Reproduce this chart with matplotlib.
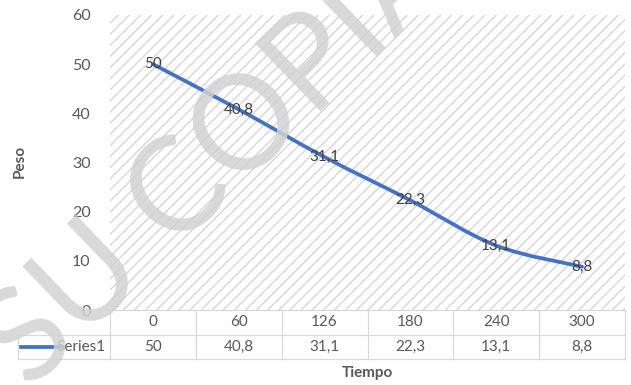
import numpy as np
import matplotlib.pyplot as plt
import matplotlib.transforms as mtransforms
from matplotlib.path import Path
from matplotlib.patches import PathPatch, Rectangle

plt.rcParams['font.family'] = ['Lato', 'DejaVu Sans']
plt.rcParams['hatch.linewidth'] = 1.0

tiempo = ['0', '60', '126', '180', '240', '300']
peso = [50, 40.8, 31.1, 22.3, 13.1, 8.8]
serie = 'Series1'

texto = '#595959'
azul = '#4472c4'
borde = '#d9d9d9'


def etiqueta(v):
    # coma decimal
    return f'{v:g}'.replace('.', ',')


def curva_suave(x, y):
    # linea suavizada tipo Excel (Bezier cubica por tramos)
    x = np.asarray(x, float)
    y = np.asarray(y, float)
    verts = [(x[0], y[0])]
    codes = [Path.MOVETO]
    n = len(x)
    for i in range(n - 1):
        i0 = max(i - 1, 0)
        i3 = min(i + 2, n - 1)
        c1 = (x[i] + (x[i + 1] - x[i0]) / 6, y[i] + (y[i + 1] - y[i0]) / 6)
        c2 = (x[i + 1] - (x[i3] - x[i]) / 6, y[i + 1] - (y[i3] - y[i]) / 6)
        verts += [c1, c2, (x[i + 1], y[i + 1])]
        codes += [Path.CURVE4] * 3
    return Path(verts, codes)


fig = plt.figure(figsize=(6.31, 3.85), dpi=100)
ax = fig.add_axes([110 / 631, 1 - 310 / 385, 515 / 631, 295 / 385])

n = len(tiempo)
xs = np.arange(n)
ax.set_xlim(-0.5, n - 0.5)
ax.set_ylim(0, 60)

# fondo rayado del area de trazado
ax.add_patch(Rectangle((0, 0), 1, 1, transform=ax.transAxes,
                       facecolor='white', edgecolor='#d6d6d6', lw=0,
                       hatch='///', zorder=0))

ax.add_patch(PathPatch(curva_suave(xs, peso), facecolor='none',
                       edgecolor=azul, lw=2.7, capstyle='round', zorder=3))

for x, v in zip(xs, peso):
    ax.text(x, v, etiqueta(v), ha='center', va='center', fontsize=11,
            color='#404040', zorder=4)

ax.set_yticks(range(0, 61, 10))
ax.tick_params(axis='y', length=0, pad=14, labelsize=11.5, labelcolor=texto)
ax.set_xticks([])
for s in ax.spines.values():
    s.set_visible(False)

# tabla de datos bajo el eje (x en categorias, y en fraccion del eje)
tr = mtransforms.blended_transform_factory(ax.transData, ax.transAxes)
fila = 24.5 / 295
izq = -0.5 - 92 / 86
y1, y2 = -fila, -2 * fila
kw = dict(color=borde, lw=0.9, transform=tr, clip_on=False)
ax.plot([-0.5, n - 0.5], [0, 0], **kw)
ax.plot([izq, n - 0.5], [y1, y1], **kw)
ax.plot([izq, n - 0.5], [y2, y2], **kw)
for b in np.arange(-0.5, n, 1.0):
    ax.plot([b, b], [0, y2], **kw)
ax.plot([izq, izq], [y1, y2], **kw)

for x, t, v in zip(xs, tiempo, peso):
    ax.text(x, -fila / 2, t, ha='center', va='center', fontsize=11,
            color=texto, transform=tr)
    ax.text(x, -1.5 * fila, etiqueta(v), ha='center', va='center',
            fontsize=11, color=texto, transform=tr)
ax.text(-0.55, -1.5 * fila, serie, ha='right', va='center', fontsize=11,
        color=texto, transform=tr)
ax.plot([izq + 0.03, izq + 0.5], [-1.5 * fila] * 2, color=azul, lw=2.7,
        transform=tr, clip_on=False)

fig.text(20 / 631, 1 - 161 / 385, 'Peso', rotation=90, ha='center',
         va='center', fontsize=11, fontweight='bold', color=texto)
fig.text(367 / 631, 1 - 373 / 385, 'Tiempo', ha='center', va='center',
         fontsize=11, fontweight='bold', color=texto)

# marca de agua
fig.text(244 / 631, 1 - 184 / 385, 'SU COPIA', rotation=44, ha='center',
         va='baseline', fontsize=94, color='#d2d2d2', alpha=0.85,
         zorder=10, rotation_mode='anchor')

fig.savefig('out.png', dpi=100)
